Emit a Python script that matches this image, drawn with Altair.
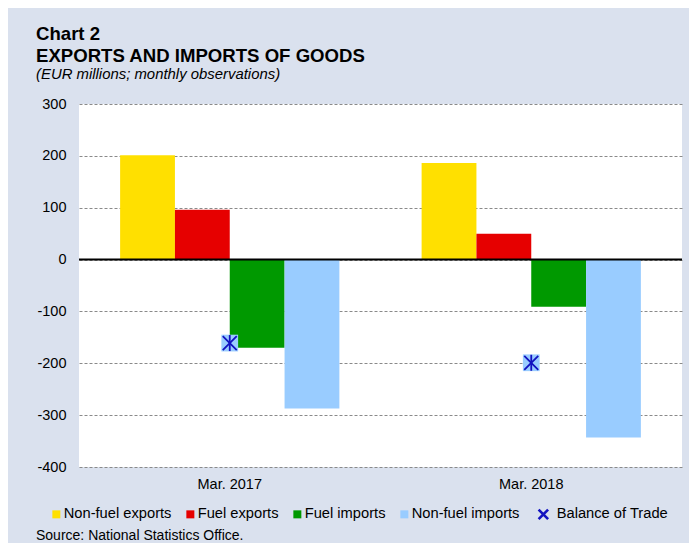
import altair as alt
import pandas as pd

# ---- data ----
periods = ["Mar. 2017", "Mar. 2018"]
series = ["Non-fuel exports", "Fuel exports", "Fuel imports", "Non-fuel imports"]
colors = ["#FFE000", "#E60000", "#009900", "#99CCFF"]
nonfuel_exports = [201, 186]
fuel_exports = [96, 50]
fuel_imports = [-170, -91]
nonfuel_imports = [-287, -343]
balance = [-161, -199]
balance_label = "Balance of Trade"
y_ticks = [-400, -300, -200, -100, 0, 100, 200, 300]
title_lines = ["Chart 2", "EXPORTS AND IMPORTS OF GOODS"]
subtitle_text = "(EUR millions; monthly observations)"
source_text = "Source: National Statistics Office."

FONT = "Liberation Sans"
BG = "#DAE1EE"
MARK_BLUE = "#1212C0"
X_PATH = "M-1,-1L1,1M-1,1L1,-1"
V_PATH = "M0,-1L0,1"

rows = []
for i, p in enumerate(periods):
    for s, vals in zip(series, [nonfuel_exports, fuel_exports, fuel_imports, nonfuel_imports]):
        rows.append({"period": p, "series": s, "value": vals[i]})
bars_df = pd.DataFrame(rows)
bal_df = pd.DataFrame({"period": periods, "value": balance, "label": [balance_label] * len(periods)})
zero_df = pd.DataFrame({"y": [0]})
src_df = pd.DataFrame({"text": [source_text]})

x_enc = alt.X(
    "period:N", sort=periods,
    scale=alt.Scale(paddingInner=0, paddingOuter=0),
    axis=alt.Axis(title=None, labelAngle=0, domain=False, ticks=False, grid=False,
                  labelPadding=10, labelFontSize=14.5, labelFont=FONT, labelColor="black"),
)
y_enc = alt.Y(
    "value:Q",
    scale=alt.Scale(domain=[-400, 300], nice=False, zero=False),
    axis=alt.Axis(values=y_ticks, title=None, grid=True, gridDash=[3, 2], gridColor="#8a8a8a",
                  gridWidth=1, domain=False, ticks=False, labelPadding=13, labelFontSize=14.5,
                  labelFont=FONT, labelColor="black", labelExpr="'' + datum.value"),
)

bars = alt.Chart(bars_df).mark_bar().encode(
    x=x_enc,
    xOffset=alt.XOffset("series:N", sort=series,
                        scale=alt.Scale(domain=series, paddingInner=0, paddingOuter=0.75)),
    y=y_enc,
    color=alt.Color("series:N", sort=series,
                    scale=alt.Scale(domain=series, range=colors),
                    legend=alt.Legend(orient="none", legendX=-30, legendY=403,
                                      direction="horizontal", columns=4, gridAlign="none",
                                      title=None,
                                      symbolType="square", symbolSize=64, symbolStrokeWidth=0,
                                      labelFontSize=14.7, labelFont=FONT, labelColor="black",
                                      labelOffset=0, columnPadding=11, padding=0)),
)

zero = alt.Chart(zero_df).mark_rule(color="black", strokeWidth=2).encode(y="y:Q")

sq = alt.Chart(bal_df).mark_point(shape="square", filled=True, size=280,
                                  color="#99CCFF", opacity=1).encode(x=x_enc, y=y_enc)

xmark = alt.Chart(bal_df).mark_point(filled=False, size=196, strokeWidth=1.8,
                                     color=MARK_BLUE, opacity=1).encode(
    x=x_enc, y=y_enc,
    shape=alt.Shape("label:N", scale=alt.Scale(domain=[balance_label], range=[X_PATH]),
                    legend=alt.Legend(orient="none", legendX=457, legendY=403, title=None,
                                      symbolSize=90, symbolStrokeWidth=2.6,
                                      symbolStrokeColor=MARK_BLUE, symbolFillColor="transparent",
                                      labelFontSize=14.7, labelFont=FONT, labelColor="black",
                                      labelOffset=6, padding=0)),
)

vmark = alt.Chart(bal_df).mark_point(shape=V_PATH, filled=False, size=256, strokeWidth=1.8,
                                     color=MARK_BLUE, opacity=1).encode(x=x_enc, y=y_enc)

src = alt.Chart(src_df).mark_text(align="left", baseline="alphabetic", fontSize=14,
                                  font=FONT, color="black").encode(
    text="text:N", x=alt.value(-43), y=alt.value(436))

chart = alt.layer(bars, zero, sq, xmark, vmark, src).properties(
    width=603, height=363,
    background=BG,
    padding={"left": 71, "top": 96, "right": 7, "bottom": 76},
    autosize=alt.AutoSizeParams(type="none"),
    title=alt.TitleParams(text=title_lines, subtitle=subtitle_text, anchor="start",
                          frame="group", dx=-43, offset=14,
                          font=FONT, fontSize=18.6, fontWeight="bold", color="black",
                          lineHeight=22.7,
                          subtitleFont=FONT, subtitleFontSize=14.9, subtitleFontStyle="italic",
                          subtitleColor="black", subtitlePadding=1),
).configure_view(fill="white", stroke=None).resolve_scale(color="independent")

chart.save("out.html", embed_options={"renderer": "svg", "actions": False})
